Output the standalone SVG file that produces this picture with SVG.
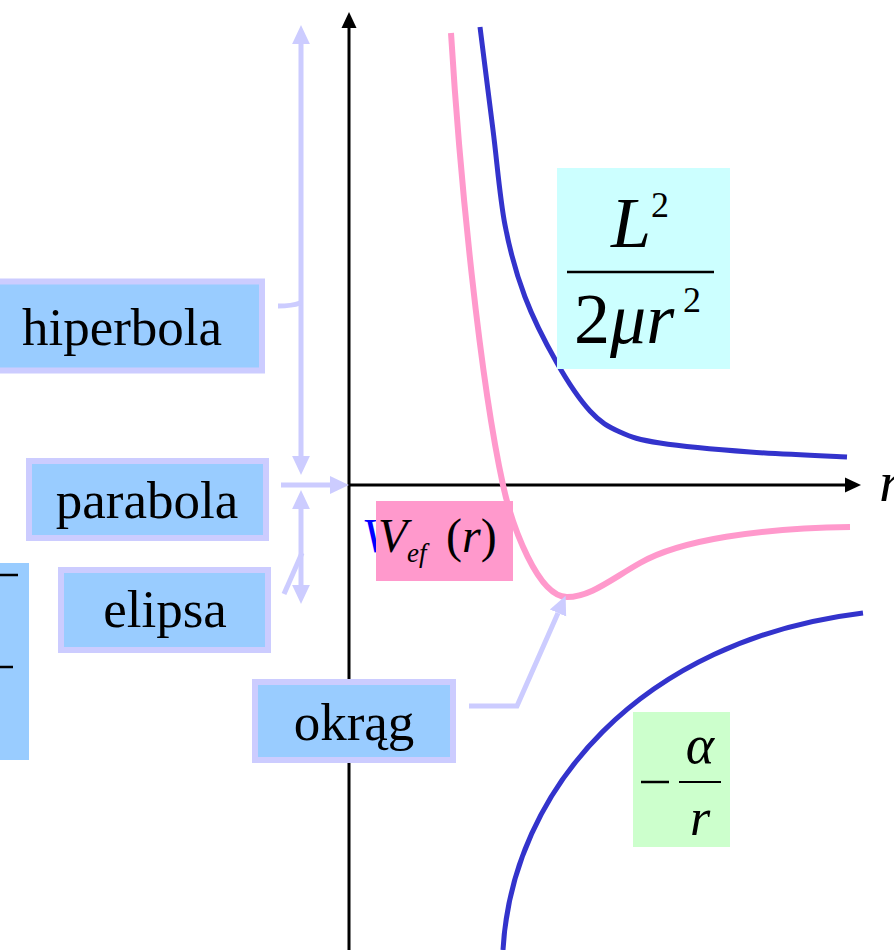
<svg xmlns="http://www.w3.org/2000/svg" width="894" height="950" viewBox="0 0 894 950">
<style>
text{font-family:"Liberation Serif","Times New Roman",serif;fill:#000}
.lbl{font-size:53px;text-anchor:middle}
.box{fill:#99ccff;stroke:#ccccff;stroke-width:6}
.conn{fill:none;stroke:#ccccff;stroke-width:5}
.axis{fill:none;stroke:#000;stroke-width:3}
.it{font-style:italic}
.curveB{fill:none;stroke:#3333cc;stroke-width:5}
.curveP{fill:none;stroke:#ff99cc;stroke-width:6}
.bar{stroke:#000;stroke-width:2.5}
</style>
<defs>
<marker id="ah" markerUnits="userSpaceOnUse" markerWidth="20" markerHeight="20" viewBox="0 -9 18 18" refX="0" refY="0" orient="auto-start-reverse">
<path d="M0,-8 L17,0 L0,8 z" fill="#ccccff"/>
</marker>
<marker id="ax" markerUnits="userSpaceOnUse" markerWidth="18" markerHeight="16" viewBox="0 -8 16 16" refX="0" refY="0" orient="auto">
<path d="M0,-7.5 L16,0 L0,7.5 z" fill="#000"/>
</marker>
</defs>

<!-- partial left box -->
<g id="partial">
<rect x="0" y="563" width="29" height="197" fill="#99ccff"/>
<line x1="0" y1="575" x2="18" y2="575" class="bar"/>
<line x1="0" y1="667" x2="13" y2="667" class="bar"/>
</g>

<!-- axes -->
<g id="axes">
<line x1="349" y1="950" x2="349" y2="28" class="axis" marker-end="url(#ax)"/>
<line x1="348" y1="485" x2="845" y2="485" class="axis" marker-end="url(#ax)"/>
<text x="879" y="501" class="it" font-size="58">r</text>
</g>

<!-- curves -->
<g id="curves">
<path class="curveB" d="M480,27 C482.2,44.2 488.8,97 493,130 C497.2,163 499.7,197.2 505,225 C510.3,252.8 516.3,274 525,297 C533.7,320 546.2,344 557,363 C567.8,382 579.5,399.5 590,411 C600.5,422.5 608.3,426.7 620,432 C631.7,437.3 638.3,439.7 660,443 C681.7,446.3 718.8,449.7 750,452 C781.2,454.3 830.8,456.2 847,457"/>
<path class="curveB" d="M503,950 C512,790 640,640 863,613"/>
<path class="curveP" d="M451,33 C460,180 480,380 503,485 C512,526 538,597 567,597 C590,597 610,580 640,563 C680,540 760,528 850,527"/>
</g>

<!-- formula boxes -->
<g id="kinetic">
<rect x="557" y="168" width="173" height="201" fill="#ccffff"/>
<text x="611" y="247" class="it" font-size="72">L</text>
<text x="651" y="217" font-size="36">2</text>
<line x1="567" y1="272" x2="714" y2="272" class="bar"/>
<text x="574" y="343" font-size="72">2<tspan class="it">μr</tspan></text>
<text x="683" y="312" font-size="36">2</text>
</g>

<g id="coulomb">
<rect x="633" y="712" width="97" height="135" fill="#ccffcc"/>
<line x1="641" y1="782" x2="669" y2="782" class="bar"/>
<line x1="679" y1="782" x2="721" y2="782" stroke="#000" stroke-width="2"/>
<text x="700" y="763" class="it" font-size="54" text-anchor="middle">α</text>
<text x="700" y="835" class="it" font-size="52" text-anchor="middle">r</text>
</g>

<g id="vef">
<text x="362" y="552" class="it" font-size="48" style="fill:#0000ff">V</text>
<rect x="376" y="501" width="137" height="80" fill="#ff99cc"/>
<text x="378" y="552" class="it" font-size="48">V</text>
<text x="407" y="562" class="it" font-size="27">ef</text>
<text x="446" y="552" font-size="48">(<tspan class="it">r</tspan>)</text>
</g>

<!-- label nodes -->
<g id="hiperbola">
<rect x="-10" y="281.5" width="272" height="89" class="box"/>
<text x="122" y="345" class="lbl">hiperbola</text>
</g>
<g id="parabola">
<rect x="29" y="461" width="237" height="77" class="box"/>
<text x="147" y="518" class="lbl">parabola</text>
</g>
<g id="elipsa">
<rect x="61" y="570" width="207" height="80" class="box"/>
<text x="165" y="627" class="lbl">elipsa</text>
</g>
<g id="okrag">
<rect x="255" y="682" width="198" height="78" class="box"/>
<text x="354" y="740" class="lbl">okrąg</text>
</g>

<!-- connectors -->
<g id="connectors">
<line x1="301" y1="44" x2="301" y2="456" class="conn" marker-start="url(#ah)" marker-end="url(#ah)"/>
<path d="M278,306 Q292,306 300,303" class="conn"/>
<line x1="281" y1="485" x2="330" y2="485" class="conn" marker-end="url(#ah)"/>
<line x1="301" y1="509" x2="301" y2="585" class="conn" marker-start="url(#ah)" marker-end="url(#ah)"/>
<line x1="284" y1="594" x2="302" y2="553" class="conn"/>
<path d="M469,706 L517,706 L558,613" class="conn" marker-end="url(#ah)"/>
</g>
</svg>
